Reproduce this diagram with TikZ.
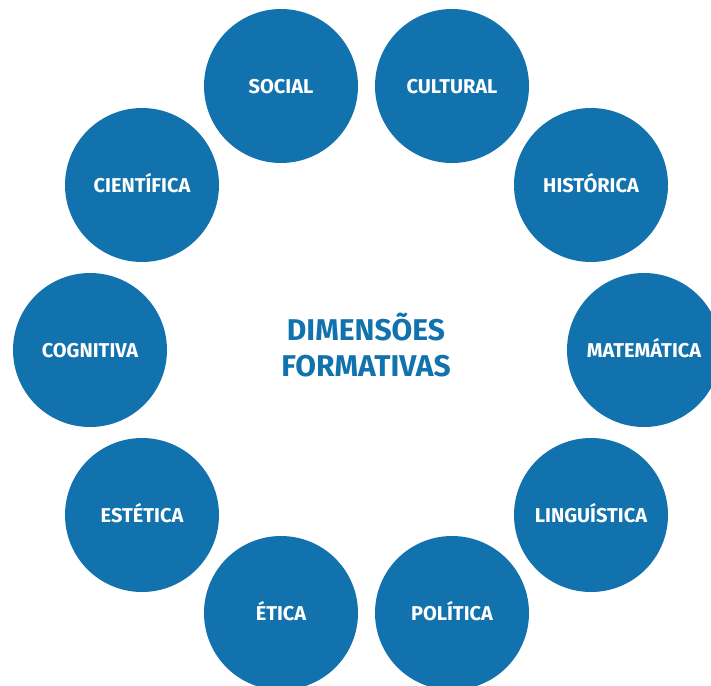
\documentclass[tikz,border=0pt]{standalone}
\usepackage{fontspec}
\setmainfont{Fira Sans}
\definecolor{dimblue}{RGB}{17,114,173}
\tikzset{
  dimcircle/.style={circle,fill=dimblue,minimum size=154pt,inner sep=0pt,
    text=white,font=\fontsize{20}{21}\selectfont\bfseries,
    text height=1.4em,text depth=0pt},
  dimtitle/.style={text=dimblue,align=center,
    font=\fontsize{30}{36}\selectfont\bfseries}
}
\begin{document}
\begin{tikzpicture}[x=1pt,y=-1pt]
    \useasboundingbox (0,0) rectangle (711,685);
    \clip (0,0) rectangle (711,685);
        % ring of dimensions
        \node[dimcircle] (social)      at (281, 86)  {SOCIAL};
        \node[dimcircle] (cultural)    at (452, 86)  {CULTURAL};
        \node[dimcircle] (historica)   at (591, 185) {HISTÓRICA};
        \node[dimcircle] (matematica)  at (644, 350) {MATEMÁTICA};
        \node[dimcircle] (linguistica) at (591, 515) {LINGUÍSTICA};
        \node[dimcircle] (politica)    at (452, 613) {POLÍTICA};
        \node[dimcircle] (etica)       at (281, 613) {ÉTICA};
        \node[dimcircle] (estetica)    at (142, 515) {ESTÉTICA};
        \node[dimcircle] (cognitiva)   at (90, 350)  {COGNITIVA};
        \node[dimcircle] (cientifica)  at (142, 185) {CIENTÍFICA};
        % centre
        \node[dimtitle] (titulo) at (366, 345) {DIMENSÕES\\FORMATIVAS};
\end{tikzpicture}
\end{document}
